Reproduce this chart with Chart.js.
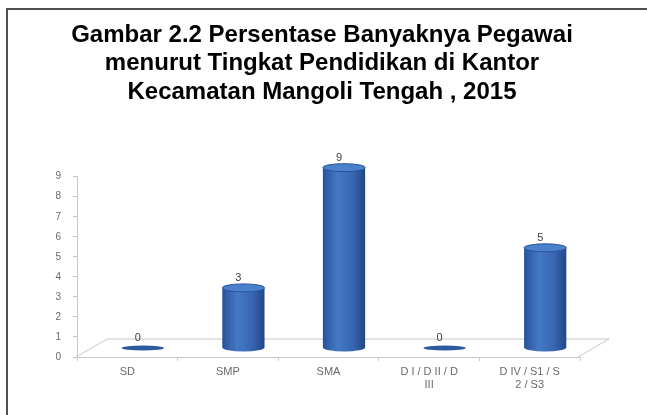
<!DOCTYPE html>
<html>
<head>
<meta charset="utf-8">
<script src="https://cdn.jsdelivr.net/npm/chart.js@4"></script>
<style>
  html, body { margin: 0; padding: 0; background: #fff; }
  #wrap { position: relative; width: 647px; height: 415px; overflow: hidden; }
  #frame { position: absolute; left: 6px; top: 8px; width: 700px; height: 500px;
           border-left: 2px solid #505050; border-top: 2px solid #505050; pointer-events: none; }
</style>
</head>
<body>
<div id="wrap">
  <canvas id="chart" width="647" height="415"></canvas>
  <div id="frame"></div>
</div>
<script>
// data
var titleLines = ['Gambar 2.2 Persentase Banyaknya Pegawai', 'menurut Tingkat Pendidikan di Kantor', 'Kecamatan Mangoli Tengah , 2015'];
var categories = ['SD', 'SMP', 'SMA', ['D I / D II / D', 'III'], ['D IV / S1 / S', '2 / S3']];
var pegawai = [0, 3, 9, 0, 5];
var yTicks = [0, 1, 2, 3, 4, 5, 6, 7, 8, 9];

var depthX = 31, depthY = 18;

// floor + cylinders drawn from the bar elements
var cylinders = {
  id: 'cylinders',
  beforeDatasetsDraw: function (chart) {
    var ctx = chart.ctx, a = chart.chartArea;
    var l = a.left - 1, r = a.right - 2, b = a.bottom;
    ctx.save();
    ctx.strokeStyle = '#c8c8c8';
    ctx.lineWidth = 1;
    ctx.beginPath();
    ctx.moveTo(l + depthX, b - depthY);
    ctx.lineTo(r + depthX, b - depthY);
    ctx.lineTo(r, b);
    ctx.moveTo(l, b);
    ctx.lineTo(l + depthX, b - depthY);
    ctx.stroke();
    ctx.restore();
  },
  afterDatasetsDraw: function (chart) {
    var ctx = chart.ctx;
    var meta = chart.getDatasetMeta(0);
    meta.data.forEach(function (bar, i) {
      var p = bar.getProps(['x', 'y', 'base', 'width'], true);
      var cx = p.x + depthX / 2, rx = p.width / 2, ry = 4;
      var top = p.y - depthY / 2, bottom = p.base - depthY / 2;
      ctx.save();
      if (bottom - top > 1) {
        var g = ctx.createLinearGradient(cx - rx, 0, cx + rx, 0);
        g.addColorStop(0, '#28529a');
        g.addColorStop(0.35, '#4479c4');
        g.addColorStop(0.7, '#3867b2');
        g.addColorStop(1, '#224785');
        ctx.fillStyle = g;
        ctx.beginPath();
        ctx.moveTo(cx - rx, top);
        ctx.lineTo(cx - rx, bottom);
        ctx.ellipse(cx, bottom, rx, ry, 0, Math.PI, 0, true);
        ctx.lineTo(cx + rx, top);
        ctx.closePath();
        ctx.fill();
        ctx.fillStyle = '#4a80cc';
        ctx.strokeStyle = '#2a5496';
        ctx.beginPath();
        ctx.ellipse(cx, top, rx, ry, 0, 0, Math.PI * 2);
        ctx.fill();
        ctx.stroke();
      } else {
        ctx.fillStyle = '#2d5a9e';
        ctx.beginPath();
        ctx.ellipse(cx, bottom, rx, 2.5, 0, 0, Math.PI * 2);
        ctx.fill();
      }
      ctx.fillStyle = '#404040';
      ctx.font = '11px "Liberation Sans", Arial, sans-serif';
      ctx.textAlign = 'center';
      ctx.textBaseline = 'middle';
      ctx.fillText(String(pegawai[i]), cx - 5, top - 10);
      ctx.restore();
    });
  }
};

var chart = new Chart(document.getElementById('chart').getContext('2d'), {
  type: 'bar',
  data: {
    labels: categories,
    datasets: [{
      label: 'Pegawai',
      data: pegawai,
      backgroundColor: 'rgba(0,0,0,0)',
      borderWidth: 0,
      barPercentage: 0.42,
      categoryPercentage: 1
    }]
  },
  options: {
    responsive: false,
    animation: false,
    layout: { padding: { left: 39, right: 42, bottom: 18, top: 0 } },
    plugins: {
      legend: { display: false },
      tooltip: { enabled: false },
      title: {
        display: true,
        text: titleLines,
        color: '#000',
        font: { family: '"Liberation Sans", Arial, sans-serif', size: 24, weight: 'bold', lineHeight: 1.19 },
        padding: { top: 21, bottom: 70 }
      }
    },
    scales: {
      x: {
        offset: true,
        afterFit: function (s) { s.height = 40; },
        grid: { drawOnChartArea: false, tickLength: 4, color: '#c8c8c8', offset: true },
        border: { color: '#c8c8c8' },
        ticks: { color: '#6a6a6a', padding: 4, maxRotation: 0, autoSkip: false,
                 font: { family: '"Liberation Sans", Arial, sans-serif', size: 11 } }
      },
      y: {
        min: yTicks[0],
        max: yTicks[yTicks.length - 1],
        afterFit: function (s) { s.width = 38; },
        afterBuildTicks: function (s) { s.ticks = yTicks.map(function (v) { return { value: v }; }); },
        grid: { drawOnChartArea: false, tickLength: 4, color: '#c8c8c8' },
        border: { color: '#c8c8c8' },
        ticks: { color: '#6a6a6a', padding: 12,
                 font: { family: '"Liberation Sans", Arial, sans-serif', size: 10 } }
      },
      // empty right-hand strip for the floor's depth
      yRight: {
        position: 'right',
        min: 0,
        max: 9,
        afterFit: function (s) { s.width = 25; },
        grid: { display: false },
        border: { display: false },
        ticks: { display: false }
      }
    }
  },
  plugins: [cylinders]
});
</script>
</body>
</html>
